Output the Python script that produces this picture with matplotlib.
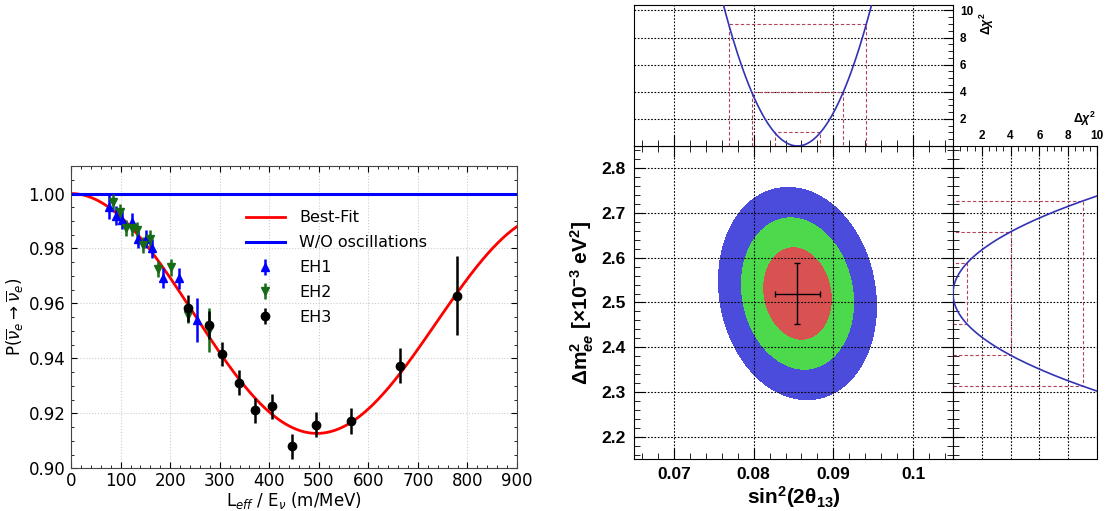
import numpy as np
import matplotlib
matplotlib.use("Agg")
import matplotlib.pyplot as plt
from matplotlib.ticker import MultipleLocator, FuncFormatter

plt.rcParams["mathtext.fontset"] = "custom"
plt.rcParams["mathtext.rm"] = "Liberation Sans:bold"
plt.rcParams["mathtext.it"] = "Liberation Sans:italic:bold"
plt.rcParams["mathtext.bf"] = "Liberation Sans:bold"

# ---------------- data: survival probability vs L/E ----------------
eh1_le = [77, 91, 102, 122, 135, 151, 164, 185, 217, 255]
eh1_p = [0.9951, 0.9919, 0.9905, 0.9897, 0.9836, 0.9836, 0.9800, 0.9693, 0.9691, 0.9539]
eh1_err = [0.0044, 0.0035, 0.0033, 0.0033, 0.0033, 0.0033, 0.0035, 0.0035, 0.0037, 0.0079]

eh2_le = [84, 98, 111, 123, 134, 146, 160, 176, 201, 235, 278]
eh2_p = [0.9970, 0.9933, 0.9875, 0.9875, 0.9867, 0.9812, 0.9836, 0.9726, 0.9731, 0.9557, 0.9503]
eh2_err = [0.003, 0.003, 0.003, 0.003, 0.003, 0.003, 0.003, 0.003, 0.003, 0.003, 0.008]

eh3_le = [235, 278, 305, 338, 371, 406, 445, 494, 564, 663, 779]
eh3_p = [0.9582, 0.9521, 0.9416, 0.9312, 0.9211, 0.9226, 0.9080, 0.9159, 0.9172, 0.9373, 0.9628]
eh3_err = [0.0048, 0.0050, 0.0045, 0.0045, 0.0045, 0.0046, 0.0046, 0.0046, 0.0049, 0.0063, 0.0143]

# best-fit oscillation parameters
sin2_2t13 = 0.0855
dm2_ee = 2.52e-3
sin2_2t12 = 0.851
dm2_21 = 7.53e-5

# ---------------- data: fit contours / profiles ----------------
fit_s = 0.0855      # sin^2(2theta13)
fit_m = 2.52        # dm2_ee [1e-3 eV^2]
sig_s = 0.00288
sig_m = 0.069
rho = -0.12
cl_levels = [2.30, 6.18, 11.83]
cl_colors = ["#d95252", "#4cd94c", "#4b4bdc"]
prof_levels = [1, 4, 9]

fig = plt.figure(figsize=(11.05, 5.11), dpi=100)

# ================= left panel =================
ax = fig.add_axes([0.0643, 0.0836, 0.4036, 0.5914])
le = np.linspace(0, 900, 600)
t13 = 0.5 * np.arcsin(np.sqrt(sin2_2t13))
p = (1 - np.cos(t13) ** 4 * sin2_2t12 * np.sin(1.267 * dm2_21 * le) ** 2
     - sin2_2t13 * np.sin(1.267 * dm2_ee * le) ** 2)
ax.plot(le, p, color="red", lw=2.0, label="Best-Fit", zorder=2)
ax.axhline(1.0, color="blue", lw=2.2, label="W/O oscillations", zorder=2)
ax.errorbar(eh1_le, eh1_p, yerr=eh1_err, fmt="^", color="blue", ms=6, elinewidth=1.8,
            capsize=0, label="EH1", zorder=3)
ax.errorbar(eh2_le, eh2_p, yerr=eh2_err, fmt="v", color="#176b17", ms=6, elinewidth=1.8,
            capsize=0, label="EH2", zorder=3)
ax.errorbar(eh3_le, eh3_p, yerr=eh3_err, fmt="o", color="black", ms=6, elinewidth=1.8,
            capsize=0, label="EH3", zorder=4)
ax.set_xlim(0, 900)
ax.set_ylim(0.90, 1.01)
ax.xaxis.set_major_locator(MultipleLocator(100))
ax.xaxis.set_minor_locator(MultipleLocator(20))
ax.yaxis.set_major_locator(MultipleLocator(0.02))
ax.yaxis.set_minor_locator(MultipleLocator(0.005))
ax.yaxis.set_major_formatter(FuncFormatter(lambda v, _: f"{v:.2f}"))
ax.tick_params(which="both", direction="in", top=True, right=True, labelsize=12)
ax.tick_params(axis="x", pad=3)
ax.tick_params(axis="y", pad=4)
ax.tick_params(which="major", length=4)
ax.tick_params(which="minor", length=2)
ax.grid(True, color="#cccccc", ls=":", lw=0.8)
for s in ax.spines.values():
    s.set_color("#444444")
ax.set_xlabel(r"L$_{eff}$ / E$_{\nu}$ (m/MeV)", fontsize=12, labelpad=0,
              math_fontfamily="dejavusans")
ax.set_ylabel(r"P($\overline{\nu}_e \rightarrow \overline{\nu}_e$)", fontsize=12, labelpad=2,
              math_fontfamily="dejavusans")
ax.legend(loc="upper left", bbox_to_anchor=(0.375, 0.88), frameon=False, fontsize=11.5,
          borderpad=0, handlelength=2.4, handletextpad=0.9, labelspacing=0.62)

# ================= right: main contour panel =================
bold = dict(fontfamily="Liberation Sans", fontweight="bold")
axm = fig.add_axes([0.5738, 0.1018, 0.2886, 0.6125])
axt = fig.add_axes([0.5738, 0.7143, 0.2886, 0.2759], sharex=axm)
axr = fig.add_axes([0.8624, 0.1018, 0.1304, 0.6125], sharey=axm)

sx = np.linspace(0.065, 0.105, 400)
my = np.linspace(2.15, 2.85, 400)
S, M = np.meshgrid(sx, my)
u = (S - fit_s) / sig_s
v = (M - fit_m) / sig_m
chi2 = (u ** 2 - 2 * rho * u * v + v ** 2) / (1 - rho ** 2)
axm.contourf(S, M, chi2, levels=[0] + cl_levels, colors=cl_colors, zorder=1)
axm.errorbar([fit_s], [fit_m], xerr=[sig_s], yerr=[sig_m], fmt="none", ecolor="black",
             elinewidth=1.0, capsize=2.5, capthick=1.0, zorder=3)
axm.set_xlim(0.065, 0.105)
axm.set_ylim(2.15, 2.85)
axm.xaxis.set_major_locator(MultipleLocator(0.01))
axm.xaxis.set_minor_locator(MultipleLocator(0.002))
axm.yaxis.set_major_locator(MultipleLocator(0.1))
axm.yaxis.set_minor_locator(MultipleLocator(0.02))
axm.xaxis.set_major_formatter(FuncFormatter(lambda v, _: f"{v:g}"))
axm.yaxis.set_major_formatter(FuncFormatter(lambda v, _: f"{v:.1f}"))
axm.tick_params(which="both", direction="in", top=True, right=True, labelsize=12.5, pad=6)
axm.tick_params(which="major", length=8)
axm.tick_params(which="minor", length=4)
for lab in axm.get_xticklabels() + axm.get_yticklabels():
    lab.set_fontfamily("Liberation Sans")
    lab.set_fontweight("bold")
axm.grid(True, color="black", ls=(0, (1.5, 1.5)), lw=0.8, zorder=2)
axm.set_axisbelow(False)
axm.set_xlabel(r"sin$^{2}$(2$\mathrm{\theta}_{13}$)", fontsize=15, labelpad=1, **bold)
axm.set_ylabel(r"$\Delta$m$^{2}_{ee}$ [$\times$10$^{-3}$ eV$^{2}$]", fontsize=15, labelpad=4, **bold)

# ================= top profile panel =================
prof_col = "#3232b4"
dash_col = "#b4405a"
axt.plot(sx, ((sx - fit_s) / sig_s) ** 2, color=prof_col, lw=1.2, zorder=3)
for lv in prof_levels:
    lo, hi = fit_s - np.sqrt(lv) * sig_s, fit_s + np.sqrt(lv) * sig_s
    axt.plot([lo, lo, hi, hi], [0, lv, lv, 0], color=dash_col, lw=0.8, ls=(0, (3, 2)), zorder=2)
axt.set_ylim(0, 10.4)
axt.yaxis.set_major_locator(MultipleLocator(2))
axt.yaxis.set_minor_locator(MultipleLocator(0.5))
axt.yaxis.tick_right()
axt.tick_params(axis="y", which="both", direction="in", left=False, right=True,
                labelsize=8.5, pad=5)
axt.tick_params(axis="y", which="major", length=7)
axt.tick_params(axis="y", which="minor", length=3.5)
axt.tick_params(axis="x", which="both", direction="in", labelbottom=False, bottom=True, top=False)
axt.tick_params(axis="x", which="major", length=8)
axt.tick_params(axis="x", which="minor", length=4)
axt.yaxis.set_major_formatter(FuncFormatter(lambda v, _: f"{v:g}" if v > 0 else ""))
for lab in axt.get_yticklabels():
    lab.set_fontfamily("Liberation Sans")
    lab.set_fontweight("bold")
axt.grid(True, color="black", ls=(0, (1.5, 1.5)), lw=0.8, zorder=1)
fig.text(0.893, 0.955, r"$\Delta\chi^{2}$", rotation=90, fontsize=9, ha="center", va="center",
         fontfamily="Liberation Sans")

# ================= right profile panel =================
axr.plot(((my - fit_m) / sig_m) ** 2, my, color=prof_col, lw=1.2, zorder=3)
for lv in prof_levels:
    lo, hi = fit_m - np.sqrt(lv) * sig_m, fit_m + np.sqrt(lv) * sig_m
    axr.plot([0, lv, lv, 0], [lo, lo, hi, hi], color=dash_col, lw=0.8, ls=(0, (3, 2)), zorder=2)
axr.set_xlim(0, 10)
axr.xaxis.set_major_locator(MultipleLocator(2))
axr.xaxis.set_minor_locator(MultipleLocator(0.5))
axr.xaxis.tick_top()
axr.tick_params(axis="x", which="both", direction="in", top=True, bottom=False,
                labeltop=True, labelbottom=False, labelsize=8.5, pad=3)
axr.tick_params(axis="x", which="major", length=7)
axr.tick_params(axis="x", which="minor", length=3.5)
axr.tick_params(axis="y", which="both", direction="in", labelleft=False, left=True, right=False)
axr.tick_params(axis="y", which="major", length=8)
axr.tick_params(axis="y", which="minor", length=4)
axr.xaxis.set_major_formatter(FuncFormatter(lambda v, _: f"{v:g}" if v > 0 else ""))
for lab in axr.get_xticklabels():
    lab.set_fontfamily("Liberation Sans")
    lab.set_fontweight("bold")
axr.grid(True, color="black", ls=(0, (1.5, 1.5)), lw=0.8, zorder=1)
fig.text(0.982, 0.768, r"$\Delta\chi^{2}$", fontsize=9, ha="center", va="center",
         fontfamily="Liberation Sans")

fig.savefig("out.png", dpi=100)
